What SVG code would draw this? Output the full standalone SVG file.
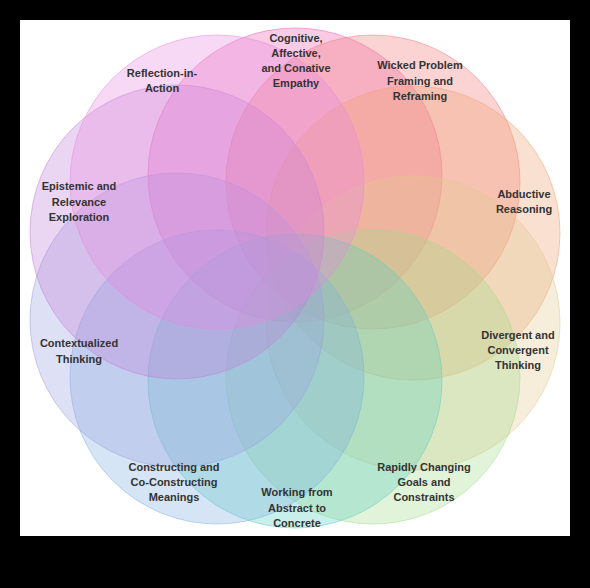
<svg xmlns="http://www.w3.org/2000/svg" width="590" height="588" viewBox="0 0 590 588">
<style>
.c{fill-opacity:0.33;stroke-opacity:0.5;stroke-width:1}
.t{font-family:"Liberation Sans",Arial,sans-serif;font-weight:bold;font-size:11px;fill:#333;text-anchor:middle}
</style>
<rect x="0" y="0" width="590" height="588" fill="#000"/>
<rect x="20" y="20" width="550" height="516" fill="#fff"/>
<g id="n-cognitive"><circle class="c" cx="295" cy="175" r="147" fill="#ee62ae" stroke="#ee62ae"/></g>
<g id="n-wicked"><circle class="c" cx="373" cy="182" r="147" fill="#f47a7a" stroke="#f47a7a"/></g>
<g id="n-abductive"><circle class="c" cx="413" cy="233" r="147" fill="#f0a070" stroke="#f0a070"/></g>
<g id="n-divergent"><circle class="c" cx="413" cy="323" r="147" fill="#e4c88e" stroke="#e4c88e"/></g>
<g id="n-rapidly"><circle class="c" cx="373" cy="377" r="147" fill="#a4dc8c" stroke="#a4dc8c"/></g>
<g id="n-working"><circle class="c" cx="295" cy="381" r="147" fill="#5ccfbf" stroke="#5ccfbf"/></g>
<g id="n-constructing"><circle class="c" cx="217" cy="377" r="147" fill="#80b0e0" stroke="#80b0e0"/></g>
<g id="n-contextualized"><circle class="c" cx="177" cy="320" r="147" fill="#9aa0e0" stroke="#9aa0e0"/></g>
<g id="n-epistemic"><circle class="c" cx="177" cy="232" r="147" fill="#c080d8" stroke="#c080d8"/></g>
<g id="n-reflection"><circle class="c" cx="217" cy="182" r="147" fill="#e888e0" stroke="#e888e0"/></g>
<g id="labels">
<text id="l-cognitive" class="t" x="296"><tspan x="296" y="42">Cognitive,</tspan><tspan x="296" y="57">Affective,</tspan><tspan x="296" y="72">and Conative</tspan><tspan x="296" y="87">Empathy</tspan></text>
<text id="l-wicked" class="t" x="420"><tspan x="420" y="69">Wicked Problem</tspan><tspan x="420" y="84.5">Framing and</tspan><tspan x="420" y="100">Reframing</tspan></text>
<text id="l-reflection" class="t" x="162"><tspan x="162" y="77">Reflection-in-</tspan><tspan x="162" y="92">Action</tspan></text>
<text id="l-epistemic" class="t" x="79"><tspan x="79" y="190">Epistemic and</tspan><tspan x="79" y="205.5">Relevance</tspan><tspan x="79" y="221">Exploration</tspan></text>
<text id="l-abductive" class="t" x="524"><tspan x="524" y="198">Abductive</tspan><tspan x="524" y="213">Reasoning</tspan></text>
<text id="l-contextualized" class="t" x="79"><tspan x="79" y="347">Contextualized</tspan><tspan x="79" y="363">Thinking</tspan></text>
<text id="l-divergent" class="t" x="518"><tspan x="518" y="339">Divergent and</tspan><tspan x="518" y="354">Convergent</tspan><tspan x="518" y="369">Thinking</tspan></text>
<text id="l-constructing" class="t" x="174"><tspan x="174" y="471">Constructing and</tspan><tspan x="174" y="486">Co-Constructing</tspan><tspan x="174" y="501">Meanings</tspan></text>
<text id="l-working" class="t" x="297"><tspan x="297" y="496">Working from</tspan><tspan x="297" y="511.5">Abstract to</tspan><tspan x="297" y="527">Concrete</tspan></text>
<text id="l-rapidly" class="t" x="424"><tspan x="424" y="471">Rapidly Changing</tspan><tspan x="424" y="486">Goals and</tspan><tspan x="424" y="501">Constraints</tspan></text>
</g>
</svg>
